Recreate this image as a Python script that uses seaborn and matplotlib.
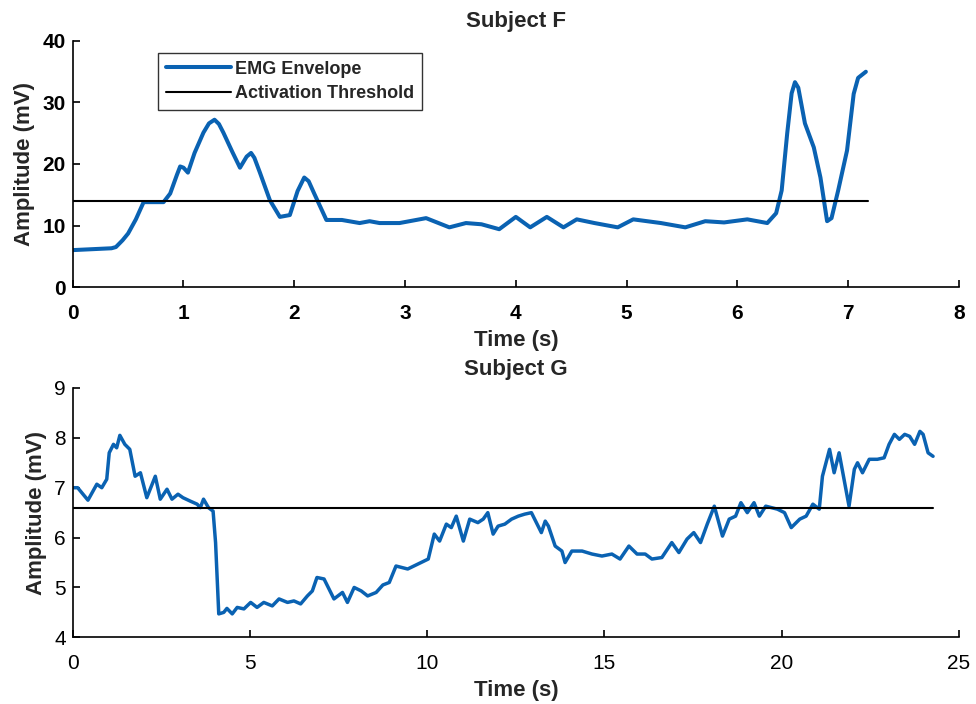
import matplotlib
matplotlib.use('Agg')
import matplotlib.pyplot as plt
import seaborn as sb
import numpy as np
import pandas as pd

# Subject F envelope (time s, amplitude mV)
f_time = [0.0, 0.35, 0.39, 0.45, 0.50, 0.57, 0.64, 0.82, 0.88, 0.94, 0.97, 1.00, 1.04,
          1.10, 1.18, 1.23, 1.28, 1.32, 1.36, 1.44, 1.51, 1.57, 1.61, 1.64, 1.69, 1.78,
          1.87, 1.96, 2.03, 2.09, 2.13, 2.18, 2.29, 2.43, 2.59, 2.68,
          2.77, 2.95, 3.19, 3.40, 3.55, 3.69, 3.85, 4.00, 4.13, 4.28, 4.43, 4.55,
          4.71, 4.92, 5.06, 5.31, 5.53, 5.71, 5.88, 6.09, 6.27, 6.35, 6.40, 6.45,
          6.49, 6.52, 6.55, 6.58, 6.61, 6.69, 6.75, 6.81, 6.85, 6.91, 6.99, 7.05,
          7.09, 7.16]
f_amp = [6.0, 6.3, 6.5, 7.6, 8.7, 11.0, 13.8, 13.8, 15.2, 18.2, 19.6, 19.4, 18.6,
         21.8, 25.1, 26.6, 27.2, 26.5, 25.1, 22.0, 19.4, 21.2, 21.8, 21.0, 18.6, 14.1,
         11.4, 11.7, 15.6, 17.8, 17.2, 15.2, 10.9, 10.9, 10.4, 10.7,
         10.4, 10.4, 11.2, 9.7, 10.4, 10.2, 9.4, 11.4, 9.7, 11.4, 9.7, 11.0,
         10.4, 9.7, 11.0, 10.4, 9.7, 10.7, 10.5, 11.0, 10.4, 12.0, 15.7, 25.0,
         31.5, 33.3, 32.4, 29.5, 26.6, 22.7, 17.8, 10.7, 11.2, 15.7, 22.2, 31.4,
         34.0, 35.0]
f_threshold = 14.0
f_end = 7.18

# Subject G envelope
g_time = [0.0, 0.14, 0.43, 0.68, 0.82, 0.96, 1.03, 1.15, 1.24, 1.33, 1.47, 1.61,
          1.76, 1.91, 2.09, 2.33, 2.47, 2.66, 2.80, 2.97, 3.11, 3.32, 3.51, 3.60,
          3.69, 3.83, 3.96, 4.03, 4.12, 4.26, 4.35, 4.50, 4.64, 4.83, 5.02, 5.20,
          5.39, 5.63, 5.82, 6.06, 6.24, 6.43, 6.62, 6.76, 6.89, 7.09, 7.37, 7.61,
          7.75, 7.94, 8.14, 8.32, 8.56, 8.75, 8.93, 9.12, 9.45, 9.74, 10.03, 10.20,
          10.35, 10.54, 10.68, 10.82, 11.02, 11.20, 11.43, 11.58, 11.71, 11.86, 12.0, 12.19,
          12.38, 12.57, 12.75, 12.94, 13.13, 13.22, 13.33, 13.42, 13.61, 13.80, 13.89, 14.08,
          14.37, 14.65, 14.93, 15.21, 15.44, 15.69, 15.92, 16.15, 16.34, 16.62, 16.90, 17.10,
          17.33, 17.52, 17.71, 17.90, 18.10, 18.33, 18.52, 18.70, 18.85, 19.03, 19.22, 19.37,
          19.55, 19.88, 20.08, 20.27, 20.51, 20.69, 20.88, 21.06, 21.15, 21.35, 21.48, 21.62,
          21.76, 21.90, 22.05, 22.14, 22.28, 22.47, 22.70, 22.89, 23.03, 23.18, 23.32, 23.47,
          23.61, 23.75, 23.90, 23.99, 24.13, 24.27]
g_amp = [7.0, 7.0, 6.75, 7.07, 7.0, 7.17, 7.7, 7.87, 7.8, 8.05, 7.87, 7.77,
         7.23, 7.3, 6.8, 7.23, 6.77, 6.97, 6.77, 6.87, 6.8, 6.73, 6.67, 6.6,
         6.77, 6.6, 6.53, 5.9, 4.47, 4.5, 4.58, 4.47, 4.6, 4.57, 4.7, 4.6,
         4.7, 4.63, 4.77, 4.7, 4.73, 4.67, 4.83, 4.93, 5.2, 5.17, 4.77, 4.9,
         4.7, 5.0, 4.93, 4.83, 4.9, 5.05, 5.1, 5.43, 5.37, 5.47, 5.57, 6.07,
         5.93, 6.27, 6.2, 6.43, 5.93, 6.37, 6.3, 6.37, 6.5, 6.07, 6.23, 6.27,
         6.37, 6.43, 6.47, 6.5, 6.23, 6.1, 6.33, 6.23, 5.83, 5.73, 5.5, 5.73,
         5.73, 5.67, 5.63, 5.67, 5.57, 5.83, 5.67, 5.67, 5.57, 5.6, 5.9, 5.7,
         5.97, 6.1, 5.9, 6.27, 6.63, 6.03, 6.37, 6.43, 6.7, 6.5, 6.7, 6.43,
         6.63, 6.57, 6.5, 6.2, 6.37, 6.43, 6.67, 6.57, 7.23, 7.77, 7.3, 7.7,
         7.17, 6.63, 7.37, 7.5, 7.3, 7.57, 7.57, 7.6, 7.87, 8.07, 7.97, 8.07,
         8.03, 7.87, 8.13, 8.07, 7.7, 7.63]
g_threshold = 6.6
g_end = 24.27

sb.set_style('white')
plt.rcParams['font.family'] = ['Liberation Sans', 'DejaVu Sans']

blue = '#0a62b2'

fig = plt.figure(figsize=(9.76, 7.04), dpi=100)
ax1 = fig.add_axes([0.0745, 0.5923, 0.908, 0.3495])
ax2 = fig.add_axes([0.0745, 0.0947, 0.908, 0.3542])


def style_axes(ax, bold_ticks):
    sb.despine(ax=ax)
    for s in ['left', 'bottom']:
        ax.spines[s].set_color('black')
        ax.spines[s].set_linewidth(1.2)
    ax.tick_params(direction='in', length=5, width=1.2, colors='black',
                   labelsize=15, left=True, bottom=True)
    ax.tick_params(axis='x', pad=12)
    ax.tick_params(axis='y', pad=5)
    for lbl in ax.get_xticklabels() + ax.get_yticklabels():
        lbl.set_fontweight('bold' if bold_ticks else 'normal')
    ax.set_xlabel('Time (s)', fontsize=16, fontweight='bold', labelpad=5)
    ax.set_ylabel('Amplitude (mV)', fontsize=16, fontweight='bold', labelpad=5)


df_f = pd.DataFrame({'t': f_time, 'v': f_amp})
sb.lineplot(data=df_f, x='t', y='v', ax=ax1, color=blue, linewidth=2.9,
            sort=False, estimator=None, label='EMG Envelope')
ax1.plot([0, f_end], [f_threshold, f_threshold], color='black', linewidth=1.5,
         label='Activation Threshold')
ax1.set_xlim(0, 8)
ax1.set_ylim(0, 40)
ax1.set_xticks(range(0, 9))
ax1.set_yticks(range(0, 41, 10))
ax1.set_title('Subject F', fontsize=16, fontweight='bold', pad=10)
style_axes(ax1, True)
leg = ax1.legend(loc='upper left', bbox_to_anchor=(0.096, 0.953), frameon=True,
                 fancybox=False, handlelength=3.6, handletextpad=0.2,
                 borderpad=0.45, labelspacing=0.4, borderaxespad=0,
                 prop={'size': 13, 'weight': 'bold'})
leg.get_frame().set_edgecolor('black')
leg.get_frame().set_linewidth(1.0)

df_g = pd.DataFrame({'t': g_time, 'v': g_amp})
sb.lineplot(data=df_g, x='t', y='v', ax=ax2, color=blue, linewidth=2.5,
            sort=False, estimator=None)
ax2.plot([0, g_end], [g_threshold, g_threshold], color='black', linewidth=1.5)
ax2.set_xlim(0, 25)
ax2.set_ylim(4, 9)
ax2.set_xticks(range(0, 26, 5))
ax2.set_yticks(range(4, 10))
ax2.set_title('Subject G', fontsize=16, fontweight='bold', pad=9)
style_axes(ax2, False)

fig.savefig('out.png', dpi=100)
